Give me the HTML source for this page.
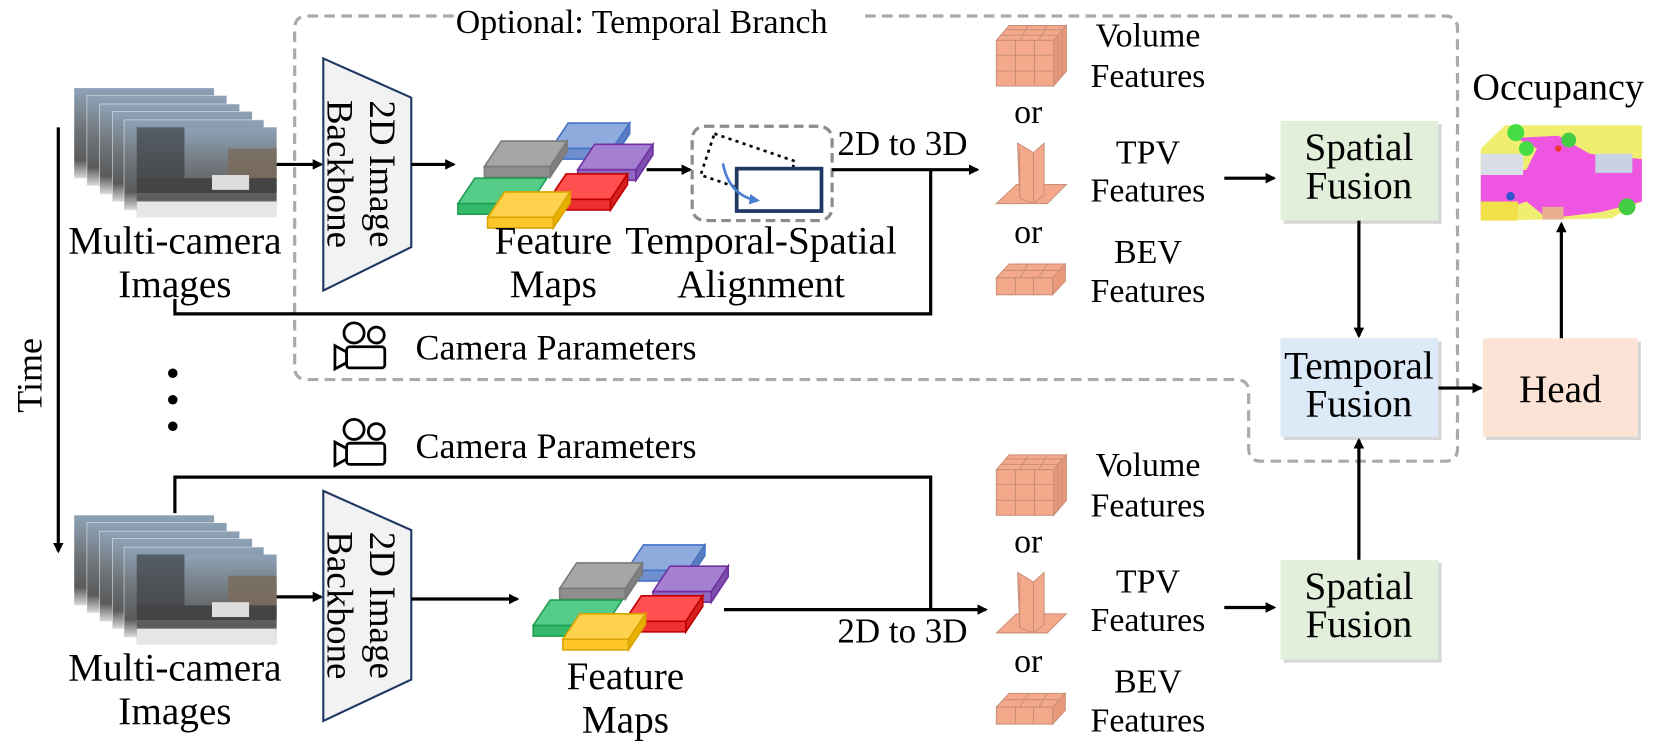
<!DOCTYPE html>
<html><head><meta charset="utf-8"><style>
html,body{margin:0;padding:0;background:#fff;}
svg{display:block;}
text{font-family:"Liberation Serif",serif;fill:#000;}
</style></head><body>
<svg width="1661" height="756" viewBox="0 0 1567 713" xmlns="http://www.w3.org/2000/svg">
<defs>
<marker id="ah" markerWidth="10" markerHeight="10" refX="8" refY="5" orient="auto" markerUnits="userSpaceOnUse">
<path d="M0,0 L10,5 L0,10 Z" fill="#000"/></marker>
<marker id="ahb" markerWidth="10" markerHeight="10" refX="8" refY="5" orient="auto" markerUnits="userSpaceOnUse">
<path d="M0,0 L10,5 L0,10 Z" fill="#4a7fd0"/></marker>
<linearGradient id="cam" x1="0" y1="0" x2="0" y2="1">
<stop offset="0" stop-color="#8ea3b8"/><stop offset="0.45" stop-color="#6f7478"/><stop offset="0.8" stop-color="#5a5b5c"/><stop offset="1" stop-color="#d8dadb"/></linearGradient>

<g id="imgs">
<rect x="70" y="83" width="132" height="85" fill="url(#cam)"/>
<rect x="82" y="90" width="132" height="85" fill="url(#cam)" stroke="#eee" stroke-width="0.5"/>
<rect x="94" y="98" width="132" height="85" fill="url(#cam)" stroke="#eee" stroke-width="0.5"/>
<rect x="106" y="105" width="132" height="85" fill="url(#cam)" stroke="#eee" stroke-width="0.5"/>
<rect x="117" y="113" width="132" height="85" fill="url(#cam)" stroke="#eee" stroke-width="0.5"/>
<rect x="129" y="120" width="132" height="85" fill="url(#cam)"/>
<rect x="129" y="120" width="45" height="55" fill="#3c3f42" opacity="0.7"/>
<rect x="215" y="140" width="46" height="30" fill="#7b6a5a" opacity="0.8"/>
<rect x="129" y="168" width="132" height="14" fill="#444"/>
<rect x="200" y="165" width="35" height="14" fill="#ddd"/>
<rect x="129" y="190" width="132" height="15" fill="#e4e6e7"/>
</g>

<g id="fm">
<polygon points="520,140 578,140 594,116 536,116" fill="#8faadc" stroke="#4472c4" stroke-width="1.5"/>
<rect x="520" y="140" width="58" height="10" fill="#6f8fcf" stroke="#4472c4" stroke-width="1.5"/>
<polygon points="578,140 594,116 594,126 578,150" fill="#5b7cc0" stroke="#4472c4" stroke-width="1.5"/>
<polygon points="457,157 519,157 535,133 473,133" fill="#a6a6a6" stroke="#7a7a7a" stroke-width="1.5"/>
<rect x="457" y="157" width="62" height="10" fill="#8f8f8f" stroke="#7a7a7a" stroke-width="1.5"/>
<polygon points="519,157 535,133 535,143 519,167" fill="#7f7f7f" stroke="#7a7a7a" stroke-width="1.5"/>
<polygon points="545,160 600,160 616,136 561,136" fill="#a680d0" stroke="#7030a0" stroke-width="1.5"/>
<rect x="545" y="160" width="55" height="10" fill="#9068bf" stroke="#7030a0" stroke-width="1.5"/>
<polygon points="600,160 616,136 616,146 600,170" fill="#7d4fae" stroke="#7030a0" stroke-width="1.5"/>
<polygon points="432,192 500,192 516,168 448,168" fill="#55cc88" stroke="#1e9e50" stroke-width="1.5"/>
<rect x="432" y="192" width="68" height="10" fill="#35b86a" stroke="#1e9e50" stroke-width="1.5"/>
<polygon points="518,188 576,188 592,164 534,164" fill="#ff4f4f" stroke="#c00000" stroke-width="1.5"/>
<rect x="518" y="188" width="58" height="10" fill="#ee3030" stroke="#c00000" stroke-width="1.5"/>
<polygon points="576,188 592,164 592,174 576,198" fill="#d42020" stroke="#c00000" stroke-width="1.5"/>
<polygon points="460,205 522,205 538,181 476,181" fill="#ffd24d" stroke="#d9a400" stroke-width="1.5"/>
<rect x="460" y="205" width="62" height="10" fill="#ffc62a" stroke="#d9a400" stroke-width="1.5"/>
<polygon points="522,205 538,181 538,191 522,215" fill="#e8b000" stroke="#d9a400" stroke-width="1.5"/>
</g>

<g id="feat" stroke="#c98f78" stroke-width="1" fill="#f4a98a">
<polygon points="940,38 994,38 1006,24 952,24"/>
<polygon points="994,38 1006,24 1006,67 994,81" fill="#e9987a"/>
<rect x="940" y="38" width="54" height="43"/>
<line x1="958" y1="38" x2="958" y2="81"/><line x1="976" y1="38" x2="976" y2="81"/>
<line x1="940" y1="52" x2="994" y2="52"/><line x1="940" y1="67" x2="994" y2="67"/>
<line x1="962" y1="38" x2="970" y2="24" /><line x1="980" y1="38" x2="988" y2="24"/>
<line x1="944" y1="33" x2="998" y2="33"/><line x1="948" y1="28" x2="1002" y2="28"/>
<line x1="998" y1="33" x2="998" y2="76"/><line x1="1002" y1="28" x2="1002" y2="72"/>
<polygon points="940,192 988,192 1006,174 959,174"/>
<polygon points="960,135 975,144 985,135 985,184 975,192 962,187" fill="#f4a98a"/>
<line x1="975" y1="144" x2="975" y2="192"/>
<line x1="962" y1="140" x2="962" y2="187"/>
<polygon points="940,262 993,262 1005,249 952,249"/>
<polygon points="993,262 1005,249 1005,265 993,278" fill="#e9987a"/>
<rect x="940" y="262" width="53" height="16"/>
<line x1="958" y1="262" x2="958" y2="278"/><line x1="975" y1="262" x2="975" y2="278"/>
<line x1="962" y1="262" x2="970" y2="249"/><line x1="980" y1="262" x2="988" y2="249"/>
<line x1="946" y1="255" x2="999" y2="255"/>
</g>

<g id="camicon" fill="none" stroke="#000" stroke-width="2.6">
<circle cx="334" cy="314" r="9.5"/>
<circle cx="355" cy="316" r="7.5"/>
<rect x="327" y="327" width="36" height="20" rx="3"/>
<polygon points="327,332 316,326 316,348 327,342"/>
</g>
</defs>

<path d="M428 15 H290 Q278 15 278 27 V346 Q278 358 290 358 H1166 Q1178 358 1178 370 V423 Q1178 435 1190 435 H1363 Q1375 435 1375 423 V27 Q1375 15 1363 15 H810" fill="none" stroke="#aaaaaa" stroke-width="3" stroke-dasharray="10,6"/>
<text x="430" y="31" font-size="32">Optional: Temporal Branch</text>

<line x1="55" y1="120" x2="55" y2="520" stroke="#000" stroke-width="3" marker-end="url(#ah)"/>
<text transform="translate(39,354) rotate(-90)" font-size="34" text-anchor="middle">Time</text>
<circle cx="163" cy="352" r="4.5"/><circle cx="163" cy="377" r="4.5"/><circle cx="163" cy="402" r="4.5"/>

<use href="#imgs"/>
<text x="165" y="239" font-size="37" text-anchor="middle">Multi-camera</text>
<text x="165" y="280" font-size="37" text-anchor="middle">Images</text>
<line x1="261" y1="155" x2="303" y2="155" stroke="#000" stroke-width="3" marker-end="url(#ah)"/>
<polygon points="305,55 388,92 388,233 305,274" fill="#f2f2f2" stroke="#1f3864" stroke-width="2"/>
<g transform="translate(346,164) rotate(90)">
<text x="0" y="-3" font-size="35" text-anchor="middle">2D Image</text>
<text x="0" y="37" font-size="35" text-anchor="middle">Backbone</text>
</g>
<line x1="388" y1="155" x2="428" y2="155" stroke="#000" stroke-width="3" marker-end="url(#ah)"/>
<use href="#fm"/>
<text x="522" y="239" font-size="37" text-anchor="middle">Feature</text>
<text x="522" y="280" font-size="37" text-anchor="middle">Maps</text>
<line x1="610" y1="160" x2="651" y2="160" stroke="#000" stroke-width="3" marker-end="url(#ah)"/>
<rect x="653" y="119" width="132" height="89" rx="12" fill="none" stroke="#8c8c8c" stroke-width="3" stroke-dasharray="9,5"/>
<polygon points="674,126 750,152 737,191 661,165" fill="none" stroke="#000" stroke-width="2.5" stroke-dasharray="3,4"/>
<rect x="695" y="159" width="80" height="40" fill="#fff" stroke="#1f3864" stroke-width="3.5"/>
<path d="M682 154 Q688 185 715 189" fill="none" stroke="#4a7fd0" stroke-width="2.5" marker-end="url(#ahb)"/>
<text x="718" y="239" font-size="37" text-anchor="middle">Temporal-Spatial</text>
<text x="718" y="280" font-size="37" text-anchor="middle">Alignment</text>
<line x1="785" y1="160" x2="922" y2="160" stroke="#000" stroke-width="3" marker-end="url(#ah)"/>
<text x="790" y="146" font-size="33">2D to 3D</text>
<polyline points="878,160 878,296 165,296 165,282" fill="none" stroke="#000" stroke-width="3"/>
<use href="#camicon"/>
<text x="392" y="339" font-size="34">Camera Parameters</text>

<use href="#feat"/>
<g font-size="32" text-anchor="middle">
<text x="1083" y="44">Volume</text><text x="1083" y="82">Features</text>
<text x="970" y="116">or</text>
<text x="1083" y="154">TPV</text><text x="1083" y="190">Features</text>
<text x="970" y="229">or</text>
<text x="1083" y="248">BEV</text><text x="1083" y="285">Features</text>
</g>
<line x1="1155" y1="168" x2="1202" y2="168" stroke="#000" stroke-width="3" marker-end="url(#ah)"/>
<rect x="1211" y="117" width="149" height="94" fill="#bbbbbb" opacity="0.6"/>
<rect x="1208" y="114" width="149" height="94" fill="#e2efda"/>
<text x="1282" y="151" font-size="37" text-anchor="middle">Spatial</text>
<text x="1282" y="187" font-size="37" text-anchor="middle">Fusion</text>
<line x1="1282" y1="208" x2="1282" y2="317" stroke="#000" stroke-width="3" marker-end="url(#ah)"/>
<rect x="1211" y="322" width="149" height="93" fill="#bbbbbb" opacity="0.6"/>
<rect x="1208" y="319" width="149" height="93" fill="#dce9f6"/>
<text x="1282" y="357" font-size="37" text-anchor="middle">Temporal</text>
<text x="1282" y="393" font-size="37" text-anchor="middle">Fusion</text>
<line x1="1357" y1="366" x2="1397" y2="366" stroke="#000" stroke-width="3" marker-end="url(#ah)"/>
<rect x="1402" y="322" width="146" height="93" fill="#bbbbbb" opacity="0.6"/>
<rect x="1399" y="319" width="146" height="93" fill="#fbe4d6"/>
<text x="1472" y="379" font-size="37" text-anchor="middle">Head</text>
<line x1="1473" y1="319" x2="1473" y2="211" stroke="#000" stroke-width="3" marker-end="url(#ah)"/>
<text x="1470" y="94" font-size="36" text-anchor="middle">Occupancy</text>
<g>
<polygon points="1397,140 1420,118 1549,118 1549,190 1520,206 1397,208" fill="#f0ee70"/>
<polygon points="1430,130 1470,128 1500,145 1549,150 1549,190 1510,200 1460,206 1440,190 1397,205 1397,165 1440,160 1450,140" fill="#ee55e0"/>
<rect x="1397" y="145" width="40" height="20" fill="#d8dde6"/>
<rect x="1505" y="145" width="35" height="18" fill="#c8d2e2"/>
<circle cx="1430" cy="125" r="8" fill="#44dd44"/>
<circle cx="1440" cy="140" r="7" fill="#44dd44"/>
<circle cx="1480" cy="132" r="7" fill="#44cc44"/>
<circle cx="1535" cy="195" r="8" fill="#44cc44"/>
<rect x="1397" y="190" width="35" height="18" fill="#f2e04a"/>
<rect x="1455" y="195" width="20" height="12" fill="#e8b090"/>
<circle cx="1425" cy="185" r="4" fill="#3355cc"/>
<circle cx="1470" cy="140" r="3" fill="#ee3333"/>
</g>

<use href="#camicon" transform="translate(0,91)"/>
<text x="392" y="432" font-size="34">Camera Parameters</text>
<polyline points="165,484 165,450 878,450 878,575" fill="none" stroke="#000" stroke-width="3"/>
<use href="#imgs" transform="translate(0,403)"/>
<text x="165" y="642" font-size="37" text-anchor="middle">Multi-camera</text>
<text x="165" y="683" font-size="37" text-anchor="middle">Images</text>
<line x1="261" y1="563" x2="303" y2="563" stroke="#000" stroke-width="3" marker-end="url(#ah)"/>
<polygon points="305,463 388,500 388,641 305,680" fill="#f2f2f2" stroke="#1f3864" stroke-width="2"/>
<g transform="translate(346,571) rotate(90)">
<text x="0" y="-3" font-size="35" text-anchor="middle">2D Image</text>
<text x="0" y="37" font-size="35" text-anchor="middle">Backbone</text>
</g>
<line x1="388" y1="565" x2="488" y2="565" stroke="#000" stroke-width="3" marker-end="url(#ah)"/>
<use href="#fm" transform="translate(71,398)"/>
<text x="590" y="650" font-size="37" text-anchor="middle">Feature</text>
<text x="590" y="691" font-size="37" text-anchor="middle">Maps</text>
<line x1="683" y1="575" x2="930" y2="575" stroke="#000" stroke-width="3" marker-end="url(#ah)"/>
<text x="790" y="606" font-size="33">2D to 3D</text>
<use href="#feat" transform="translate(0,405)"/>
<g font-size="32" text-anchor="middle">
<text x="1083" y="449">Volume</text><text x="1083" y="487">Features</text>
<text x="970" y="521">or</text>
<text x="1083" y="559">TPV</text><text x="1083" y="595">Features</text>
<text x="970" y="634">or</text>
<text x="1083" y="653">BEV</text><text x="1083" y="690">Features</text>
</g>
<line x1="1155" y1="573" x2="1202" y2="573" stroke="#000" stroke-width="3" marker-end="url(#ah)"/>
<rect x="1211" y="531" width="149" height="94" fill="#bbbbbb" opacity="0.6"/>
<rect x="1208" y="528" width="149" height="94" fill="#e2efda"/>
<text x="1282" y="565" font-size="37" text-anchor="middle">Spatial</text>
<text x="1282" y="601" font-size="37" text-anchor="middle">Fusion</text>
<line x1="1282" y1="528" x2="1282" y2="415" stroke="#000" stroke-width="3" marker-end="url(#ah)"/>
</svg>
</body></html>
